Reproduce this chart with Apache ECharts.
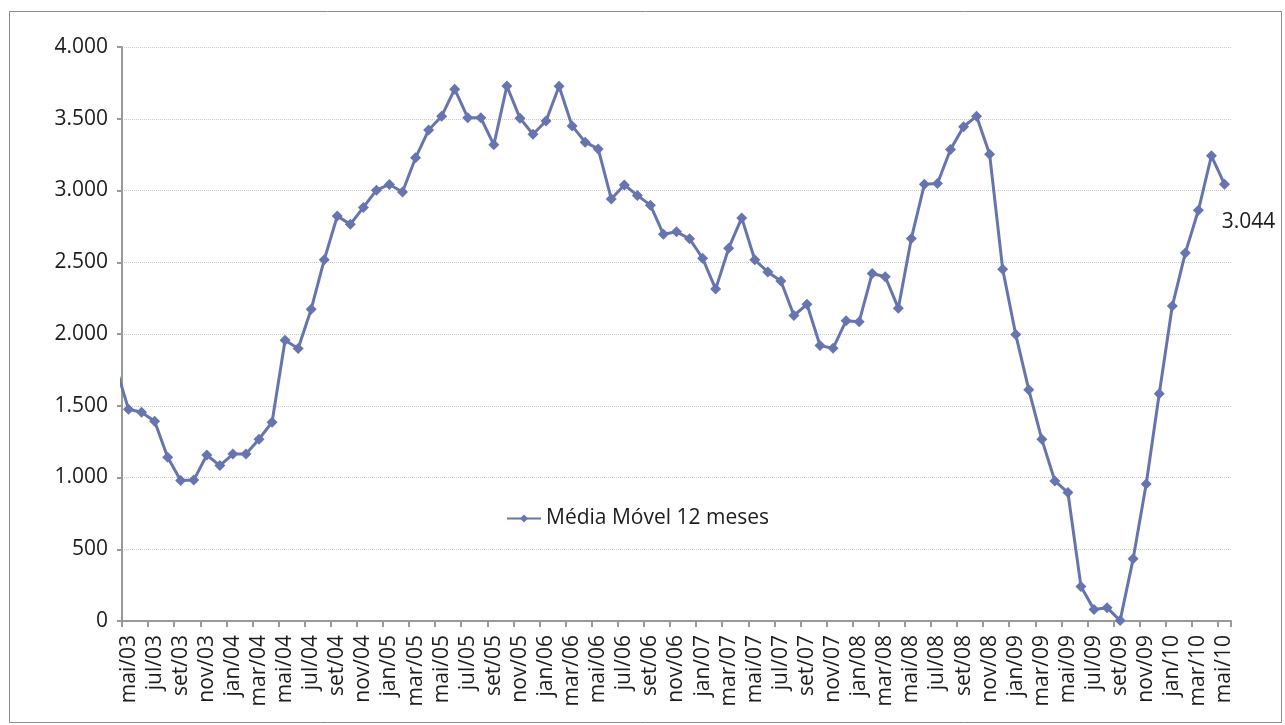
<!DOCTYPE html>
<html>
<head>
<meta charset="utf-8">
<script src="https://cdn.jsdelivr.net/npm/echarts@6/dist/echarts.min.js"></script>
<style>
  html, body { margin: 0; padding: 0; background: #fff; }
  #main { width: 1285px; height: 725px; }
</style>
</head>
<body>
<div id="main"></div>
<script>
// meses (abr/03 fica fora da área, só a linha aparece cortada)
const months = [
  'abr/03', 'mai/03', 'jun/03', 'jul/03', 'ago/03', 'set/03', 'out/03', 'nov/03', 'dez/03',
  'jan/04', 'fev/04', 'mar/04', 'abr/04', 'mai/04', 'jun/04', 'jul/04', 'ago/04', 'set/04', 'out/04', 'nov/04', 'dez/04',
  'jan/05', 'fev/05', 'mar/05', 'abr/05', 'mai/05', 'jun/05', 'jul/05', 'ago/05', 'set/05', 'out/05', 'nov/05', 'dez/05',
  'jan/06', 'fev/06', 'mar/06', 'abr/06', 'mai/06', 'jun/06', 'jul/06', 'ago/06', 'set/06', 'out/06', 'nov/06', 'dez/06',
  'jan/07', 'fev/07', 'mar/07', 'abr/07', 'mai/07', 'jun/07', 'jul/07', 'ago/07', 'set/07', 'out/07', 'nov/07', 'dez/07',
  'jan/08', 'fev/08', 'mar/08', 'abr/08', 'mai/08', 'jun/08', 'jul/08', 'ago/08', 'set/08', 'out/08', 'nov/08', 'dez/08',
  'jan/09', 'fev/09', 'mar/09', 'abr/09', 'mai/09', 'jun/09', 'jul/09', 'ago/09', 'set/09', 'out/09', 'nov/09', 'dez/09',
  'jan/10', 'fev/10', 'mar/10', 'abr/10', 'mai/10'
]

const mediaMovel = [
  1780, 1475, 1455, 1392, 1141, 979, 982, 1157, 1083, 1163,
  1164, 1267, 1385, 1957, 1899, 2173, 2517, 2822, 2764, 2882,
  3002, 3042, 2990, 3228, 3421, 3518, 3706, 3507, 3507, 3318,
  3728, 3504, 3392, 3484, 3727, 3450, 3337, 3290, 2941, 3039,
  2966, 2898, 2695, 2712, 2664, 2528, 2313, 2598, 2809, 2517,
  2432, 2370, 2129, 2207, 1920, 1900, 2093, 2086, 2422, 2399,
  2180, 2666, 3043, 3049, 3286, 3444, 3518, 3252, 2452, 1996,
  1612, 1266, 976, 895, 241, 80, 93, 3, 433, 955,
  1583, 2195, 2565, 2862, 3242, 3044
]

const yTicks = [0, 500, 1000, 1500, 2000, 2500, 3000, 3500, 4000]

const lineColor = '#6674b0'
const textColor = '#1c1c1c'
const font = '"Open Sans", "Noto Sans", sans-serif'

// separador de milhar com ponto
const fmt = v => String(v).replace(/\B(?=(\d{3})+(?!\d))/g, '.')

const lastIdx = mediaMovel.length - 1
const seriesData = mediaMovel.map((v, i) => {
  if (i !== lastIdx) return v
  return {
    value: v,
    label: {
      show: true,
      position: 'bottom',
      distance: 5,
      offset: [24, 17],
      formatter: p => fmt(p.value),
      color: textColor,
      fontSize: 21,
      fontFamily: font
    }
  }
})

const chart = echarts.init(document.getElementById('main'))

chart.setOption({
  animation: false,
  textStyle: { fontFamily: font },
  graphic: [{
    type: 'rect',
    shape: { x: 9.5, y: 11.5, width: 1272, height: 711 },
    style: { fill: 'none', stroke: '#8c8c8c', lineWidth: 1 },
    z: -1
  }],
  grid: { left: 122, right: 54, top: 47, bottom: 104 },
  legend: {
    left: 501,
    top: 503,
    itemWidth: 34,
    itemHeight: 10,
    textStyle: { fontSize: 21, color: textColor, fontFamily: font },
    data: ['Média Móvel 12 meses']
  },
  xAxis: {
    type: 'category',
    data: months,
    min: 1,
    boundaryGap: true,
    axisLine: { lineStyle: { color: '#999', width: 2 } },
    axisTick: {
      show: true,
      length: 6,
      interval: (i) => i % 2 === 1,
      lineStyle: { color: '#999', width: 2 }
    },
    axisLabel: {
      interval: (i) => i % 2 === 1,
      rotate: 90,
      margin: 14,
      fontSize: 21,
      color: textColor,
      fontFamily: font
    },
    splitLine: { show: false }
  },
  yAxis: {
    type: 'value',
    min: yTicks[0],
    max: yTicks[yTicks.length - 1],
    interval: 500,
    axisLine: { show: true, lineStyle: { color: '#999', width: 2 } },
    axisTick: { show: true, length: 5, lineStyle: { color: '#999', width: 2 } },
    axisLabel: {
      formatter: fmt,
      margin: 14,
      fontSize: 21,
      color: textColor,
      fontFamily: font
    },
    splitLine: { lineStyle: { color: '#c8c8c8', type: 'dotted', width: 1 } }
  },
  series: [{
    name: 'Média Móvel 12 meses',
    type: 'line',
    data: seriesData,
    clip: true,
    symbol: 'diamond',
    symbolSize: 11,
    showAllSymbol: true,
    itemStyle: { color: lineColor },
    lineStyle: { color: lineColor, width: 3 }
  }]
})
</script>
</body>
</html>
